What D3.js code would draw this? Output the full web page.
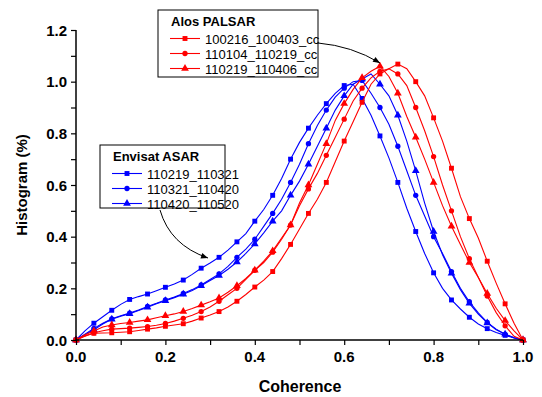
<!DOCTYPE html>
<html><head><meta charset="utf-8">
<script src="https://cdn.jsdelivr.net/npm/d3@7"></script>
<style>body{margin:0;background:#fff}svg{display:block;font-family:"Liberation Sans",Arial,sans-serif}</style>
</head><body><svg id="c" width="542" height="397"></svg>
<script>
const xValues = d3.range(51).map(i => +(i * 0.02).toFixed(2));
const envisatB1 = [0,0.035,0.065,0.09,0.115,0.138,0.157,0.168,0.178,0.191,0.204,0.217,0.232,0.254,0.278,0.298,0.32,0.348,0.38,0.412,0.46,0.505,0.56,0.625,0.70,0.765,0.82,0.87,0.915,0.955,0.985,0.99,0.935,0.87,0.79,0.705,0.61,0.51,0.42,0.335,0.26,0.2,0.155,0.12,0.088,0.062,0.044,0.029,0.018,0.008,0];
const envisatB2 = [0,0.022,0.045,0.065,0.082,0.094,0.104,0.116,0.13,0.142,0.155,0.166,0.18,0.195,0.213,0.234,0.256,0.285,0.32,0.352,0.39,0.44,0.49,0.545,0.61,0.68,0.76,0.83,0.89,0.94,0.975,1.0,1.005,0.955,0.9,0.835,0.75,0.655,0.56,0.48,0.4,0.335,0.265,0.2,0.148,0.105,0.068,0.042,0.022,0.009,0];
const envisatB3 = [0,0.02,0.04,0.062,0.08,0.092,0.102,0.114,0.127,0.14,0.152,0.164,0.177,0.192,0.21,0.23,0.25,0.274,0.302,0.335,0.372,0.415,0.46,0.5,0.56,0.615,0.68,0.75,0.82,0.89,0.945,0.99,1.01,1.03,0.99,0.945,0.87,0.77,0.655,0.53,0.42,0.33,0.258,0.195,0.142,0.1,0.066,0.04,0.022,0.009,0];
const palsarR1 = [0,0.016,0.026,0.027,0.028,0.03,0.032,0.037,0.042,0.047,0.053,0.058,0.063,0.073,0.085,0.097,0.11,0.128,0.15,0.176,0.205,0.232,0.265,0.315,0.37,0.43,0.49,0.545,0.61,0.69,0.77,0.845,0.92,0.99,1.03,1.05,1.068,1.05,1.0,0.945,0.86,0.77,0.665,0.555,0.47,0.395,0.305,0.22,0.14,0.065,0];
const palsarR2 = [0,0.015,0.028,0.036,0.042,0.044,0.046,0.049,0.052,0.057,0.064,0.073,0.084,0.096,0.11,0.128,0.15,0.175,0.2,0.235,0.27,0.3,0.34,0.39,0.445,0.52,0.585,0.645,0.715,0.785,0.855,0.925,0.975,1.015,1.04,1.05,1.03,0.985,0.9,0.81,0.71,0.6,0.5,0.4,0.315,0.243,0.17,0.106,0.055,0.014,0];
const palsarR3 = [0,0.02,0.035,0.05,0.058,0.064,0.068,0.073,0.078,0.086,0.094,0.101,0.11,0.122,0.135,0.148,0.163,0.185,0.21,0.238,0.27,0.305,0.345,0.395,0.445,0.53,0.6,0.68,0.76,0.85,0.915,0.97,1.015,1.04,1.06,1.02,0.955,0.865,0.785,0.7,0.61,0.52,0.44,0.37,0.3,0.242,0.18,0.123,0.075,0.035,0];
const xTicks = [0, 0.2, 0.4, 0.6, 0.8, 1.0];
const yTicks = [0, 0.2, 0.4, 0.6, 0.8, 1.0, 1.2];
const envisatNames = ["110219_110321", "110321_110420", "110420_110520"];
const palsarNames = ["100216_100403_cc", "110104_110219_cc", "110219_110406_cc"];
const groupTitles = ["Envisat ASAR", "Alos PALSAR"];

const series = [
  {vals: envisatB1, color: "#0000ff", sym: d3.symbolSquare},
  {vals: envisatB2, color: "#0000ff", sym: d3.symbolCircle},
  {vals: envisatB3, color: "#0000ff", sym: d3.symbolTriangle},
  {vals: palsarR3, color: "#ff0000", sym: d3.symbolTriangle},
  {vals: palsarR2, color: "#ff0000", sym: d3.symbolCircle},
  {vals: palsarR1, color: "#ff0000", sym: d3.symbolSquare}
];
const symSize = {};
symSize[d3.symbolSquare] = 24; 
const sizeOf = s => s === d3.symbolSquare ? 24 : (s === d3.symbolCircle ? 22 : 26);

const svg = d3.select("#c");
const x = d3.scaleLinear().domain([0, 1]).range([76, 523]);
const y = d3.scaleLinear().domain([0, 1.2]).range([340, 30]);

// series
const line = d3.line().x((d, i) => x(xValues[i])).y(d => y(d));
series.forEach(s => {
  svg.append("path").attr("d", line(s.vals)).attr("fill", "none")
    .attr("stroke", s.color).attr("stroke-width", 1.1);
  const g = svg.append("g");
  s.vals.forEach((v, i) => {
    if (i % 2 !== 0) return;
    g.append("path").attr("d", d3.symbol().type(s.sym).size(sizeOf(s.sym))())
      .attr("transform", `translate(${x(xValues[i])},${y(v)})`).attr("fill", s.color);
  });
});

// axes
const xAxis = svg.append("g").attr("transform", "translate(0,340)");
xAxis.call(d3.axisBottom(x).tickValues(d3.range(11).map(i => i / 10)).tickSize(5).tickFormat(""));
xAxis.select(".domain").attr("d", "M76,0H523").attr("stroke-width", 1.5);
xAxis.selectAll(".tick line").attr("stroke-width", 1.2);
xTicks.forEach(t => svg.append("text").attr("x", x(t)).attr("y", 362).attr("text-anchor", "middle")
  .attr("font-size", 15).attr("font-weight", "bold").text(d3.format(".1f")(t)));

const yAxis = svg.append("g").attr("transform", "translate(76,0)");
yAxis.call(d3.axisLeft(y).tickValues(d3.range(13).map(i => i / 10)).tickSize(5).tickFormat(""));
yAxis.select(".domain").attr("d", "M0,340V30").attr("stroke-width", 1.5);
yAxis.selectAll(".tick line").attr("stroke-width", 1.2);
yTicks.forEach(t => svg.append("text").attr("x", 67).attr("y", y(t) + 5.5).attr("text-anchor", "end")
  .attr("font-size", 15).attr("font-weight", "bold").text(d3.format(".1f")(t)));

svg.append("text").attr("x", 300).attr("y", 392).attr("text-anchor", "middle")
  .attr("font-size", 16).attr("font-weight", "bold").text("Coherence");
svg.append("text").attr("transform", "translate(27,185) rotate(-90)").attr("text-anchor", "middle")
  .attr("font-size", 15).attr("font-weight", "bold").text("Histogram (%)");

// legends
function legend(x0, y0, w, h, title, names, color) {
  const g = svg.append("g");
  g.append("rect").attr("x", x0).attr("y", y0).attr("width", w).attr("height", h)
    .attr("fill", "#fff").attr("stroke", "#000").attr("stroke-width", 1);
  g.append("text").attr("x", x0 + 13).attr("y", y0 + 16).attr("font-size", 13)
    .attr("font-weight", "bold").text(title);
  const syms = [d3.symbolSquare, d3.symbolCircle, d3.symbolTriangle];
  names.forEach((n, i) => {
    const cy = y0 + 28.5 + i * 15;
    g.append("line").attr("x1", x0 + 12).attr("x2", x0 + 42).attr("y1", cy).attr("y2", cy)
      .attr("stroke", color).attr("stroke-width", 1.1);
    g.append("path").attr("d", d3.symbol().type(syms[i]).size(sizeOf(syms[i]))())
      .attr("transform", `translate(${x0 + 27},${cy})`).attr("fill", color);
    g.append("text").attr("x", x0 + 47).attr("y", cy + 5).attr("font-size", 13).text(n);
  });
}
legend(158, 10, 160, 67, groupTitles[1], palsarNames, "#ff0000");
legend(100, 145, 125, 63, groupTitles[0], envisatNames, "#0000ff");

// arrows
const defs = svg.append("defs");
defs.append("marker").attr("id", "ah").attr("viewBox", "0 0 10 10").attr("refX", 10).attr("refY", 5)
  .attr("markerWidth", 9).attr("markerHeight", 7).attr("orient", "auto")
  .append("path").attr("d", "M0,1L10,5L0,9Z").attr("fill", "#000");
svg.append("path").attr("d", "M318,43 Q352,46 380,63").attr("fill", "none").attr("stroke", "#000")
  .attr("stroke-width", 1).attr("marker-end", "url(#ah)");
svg.append("path").attr("d", "M160,210 Q170,245 208,258").attr("fill", "none").attr("stroke", "#000")
  .attr("stroke-width", 1).attr("marker-end", "url(#ah)");
</script></body></html>
